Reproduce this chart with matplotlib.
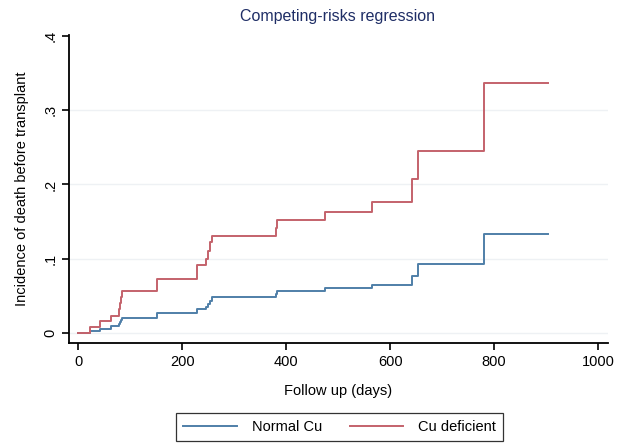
import matplotlib
matplotlib.use("Agg")
import matplotlib.pyplot as plt

plt.rcParams['font.family'] = ['Liberation Sans', 'DejaVu Sans']

# step times (days) shared by both curves
days = [0, 23, 41, 63, 78, 80, 82, 84, 151, 229, 245, 250, 254, 258,
        381, 383, 474, 565, 642, 653, 780, 903]
cu_deficient = [0, 0.0077, 0.016, 0.023, 0.032, 0.040, 0.048, 0.056, 0.073,
                0.091, 0.100, 0.110, 0.122, 0.130, 0.141, 0.152, 0.163,
                0.177, 0.207, 0.245, 0.336, 0.336]
normal_cu = [0, 0.003, 0.006, 0.009, 0.012, 0.015, 0.018, 0.020, 0.0265,
             0.032, 0.0345, 0.0386, 0.043, 0.048, 0.052, 0.056, 0.061,
             0.065, 0.077, 0.093, 0.133, 0.133]

xticks = [0, 200, 400, 600, 800, 1000]
yticks = [0, 0.1, 0.2, 0.3, 0.4]
ytick_labels = ['0', '.1', '.2', '.3', '.4']

blue = '#4f7fa8'
red = '#c4626b'

fig = plt.figure(figsize=(6.17, 4.43), dpi=100)
ax = fig.add_axes([69 / 617, 100 / 443, 539 / 617, 308 / 443])

ax.step(days, normal_cu, where='post', color=blue, lw=1.4, label='Normal Cu')
ax.step(days, cu_deficient, where='post', color=red, lw=1.4, label='Cu deficient')

ax.set_xlim(-18, 1019)
ax.set_ylim(-0.0135, 0.4013)

for y in yticks[:-1]:
    ax.axhline(y, color='#eef1f4', lw=1, zorder=0)

ax.set_xticks(xticks)
ax.set_yticks(yticks)
ax.set_yticklabels(ytick_labels, rotation=90, va='center')
ax.tick_params(direction='out', length=5, width=1.2, labelsize=10.5, colors='black')

for s in ['top', 'right']:
    ax.spines[s].set_visible(False)
for s in ['left', 'bottom']:
    ax.spines[s].set_linewidth(1.3)

ax.set_xlabel('Follow up (days)', fontsize=10.5, labelpad=11)
ax.set_ylabel('Incidence of death before transplant', fontsize=10.5, labelpad=10)
fig.text(338 / 617, 1 - 17 / 443, 'Competing-risks regression', ha='center',
         va='center', fontsize=11.5, color='#1f2e66')

leg = fig.legend(loc='center', bbox_to_anchor=(339.5 / 617, 1 - 427 / 443), ncol=2,
                 frameon=True, fancybox=False, edgecolor='black', fontsize=10.5,
                 handlelength=3.7, handletextpad=1.0, columnspacing=1.9,
                 borderpad=0.5)
leg.get_frame().set_linewidth(0.9)

fig.savefig('out.png', dpi=100)
